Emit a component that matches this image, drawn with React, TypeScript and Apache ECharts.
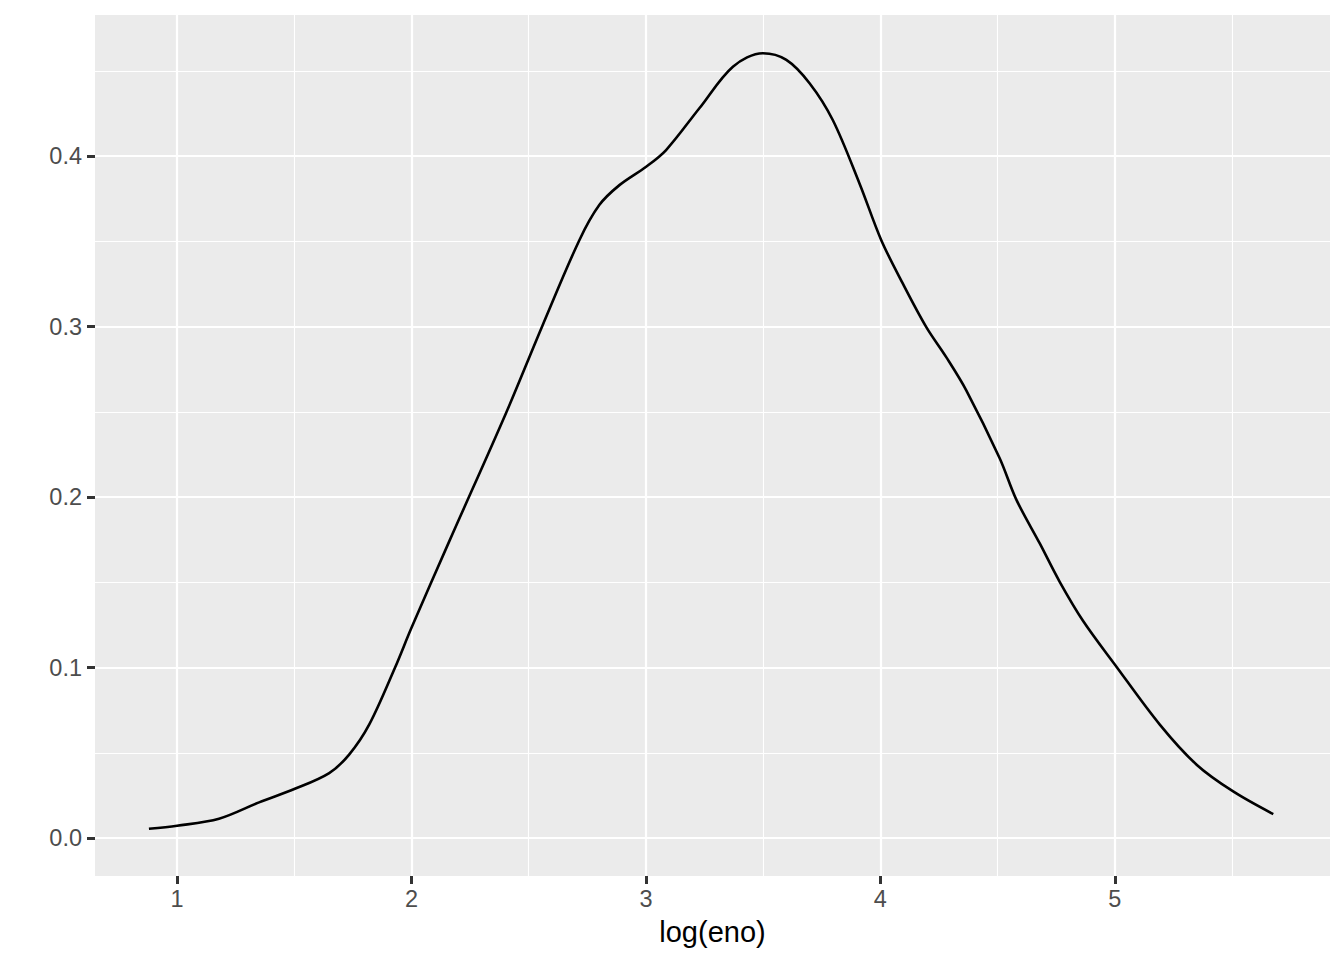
import React, { useEffect, useRef } from "react";
import * as echarts from "echarts";

const logEno: number[] = [
  0.88, 1.0, 1.179, 1.35, 1.5, 1.649, 1.734, 1.82, 1.93, 2.0, 2.161, 2.403,
  2.559, 2.716, 2.801, 2.887, 3.001, 3.086, 3.228, 3.371, 3.499, 3.599, 3.698,
  3.797, 3.911, 4.004, 4.096, 4.196, 4.281, 4.367, 4.509, 4.58, 4.68, 4.765,
  4.865, 5.0, 5.192, 5.349, 5.505, 5.676,
];
const density: number[] = [
  0.0054, 0.0072, 0.0113, 0.0209, 0.0287, 0.0381, 0.0489, 0.0666, 0.1,
  0.1233, 0.174, 0.2492, 0.3007, 0.3507, 0.3713, 0.383, 0.3938, 0.4036,
  0.4281, 0.4525, 0.4604, 0.4565, 0.4428, 0.4212, 0.384, 0.3507, 0.3252,
  0.2997, 0.2821, 0.2625, 0.2228, 0.1985, 0.1728, 0.1503, 0.1273, 0.1018,
  0.0665, 0.043, 0.0273, 0.014,
];
const xMajor: number[] = [1, 2, 3, 4, 5];
const xMinor: number[] = [0.5, 1.5, 2.5, 3.5, 4.5, 5.5];
const yMajor: number[] = [0, 0.1, 0.2, 0.3, 0.4];
const yMinor: number[] = [0.05, 0.15, 0.25, 0.35, 0.45];
const xTitle = "log(eno)";

const FONT = "'Liberation Sans', Arial, Helvetica, sans-serif";

export default function App() {
  const ref = useRef<HTMLDivElement>(null);
  useEffect(() => {
    document.body.style.margin = "0";
    if (!ref.current) return;
    const chart = echarts.init(ref.current, undefined, { renderer: "svg" });
    const xMin = 0.65;
    const xMax = 5.918;
    const yMin = -0.0223;
    const yMax = 0.4828;
    const tickStyle = { color: "#333333", width: 3 };
    chart.setOption({
      animation: false,
      backgroundColor: "#ffffff",
      grid: {
        left: 95,
        right: 14,
        top: 15,
        bottom: 84,
        show: true,
        backgroundColor: "#EBEBEB",
        borderWidth: 0,
      },
      xAxis: [
        {
          type: "value",
          position: "bottom",
          min: xMin,
          max: xMax,
          name: xTitle,
          nameLocation: "middle",
          nameGap: 41,
          nameTextStyle: { color: "#000000", fontSize: 29, fontFamily: FONT },
          axisLine: { show: false, onZero: false },
          axisTick: { show: true, length: 8, lineStyle: tickStyle, customValues: xMajor },
          axisLabel: {
            customValues: xMajor,
            color: "#4D4D4D",
            fontSize: 23.5,
            fontFamily: FONT,
            margin: 11,
          },
          splitLine: { show: true, lineStyle: { color: "#ffffff", width: 2.2 } },
          z: 1,
        },
        {
          type: "value",
          position: "top",
          min: xMin,
          max: xMax,
          axisLine: { show: false, onZero: false },
          axisTick: { show: false, customValues: xMinor },
          axisLabel: { show: false, customValues: xMinor },
          splitLine: { show: true, lineStyle: { color: "#ffffff", width: 1.1 } },
          z: 0,
        },
      ],
      yAxis: [
        {
          type: "value",
          position: "left",
          min: yMin,
          max: yMax,
          axisLine: { show: false, onZero: false },
          axisTick: { show: true, length: 8, lineStyle: tickStyle, customValues: yMajor },
          axisLabel: {
            customValues: yMajor,
            color: "#4D4D4D",
            fontSize: 23.5,
            fontFamily: FONT,
            margin: 13,
            formatter: (v: number) => v.toFixed(1),
          },
          splitLine: { show: true, lineStyle: { color: "#ffffff", width: 2.2 } },
          z: 1,
        },
        {
          type: "value",
          position: "right",
          min: yMin,
          max: yMax,
          axisLine: { show: false, onZero: false },
          axisTick: { show: false, customValues: yMinor },
          axisLabel: { show: false, customValues: yMinor },
          splitLine: { show: true, lineStyle: { color: "#ffffff", width: 1.1 } },
          z: 0,
        },
      ],
      series: [
        {
          type: "line",
          xAxisIndex: 0,
          yAxisIndex: 0,
          data: logEno.map((x, i) => [x, density[i]]),
          smooth: 0.33,
          showSymbol: false,
          symbol: "none",
          lineStyle: { color: "#000000", width: 2.6 },
          z: 5,
        },
      ],
    });
    return () => chart.dispose();
  }, []);
  return <div ref={ref} style={{ width: 1344, height: 960 }} />;
}
